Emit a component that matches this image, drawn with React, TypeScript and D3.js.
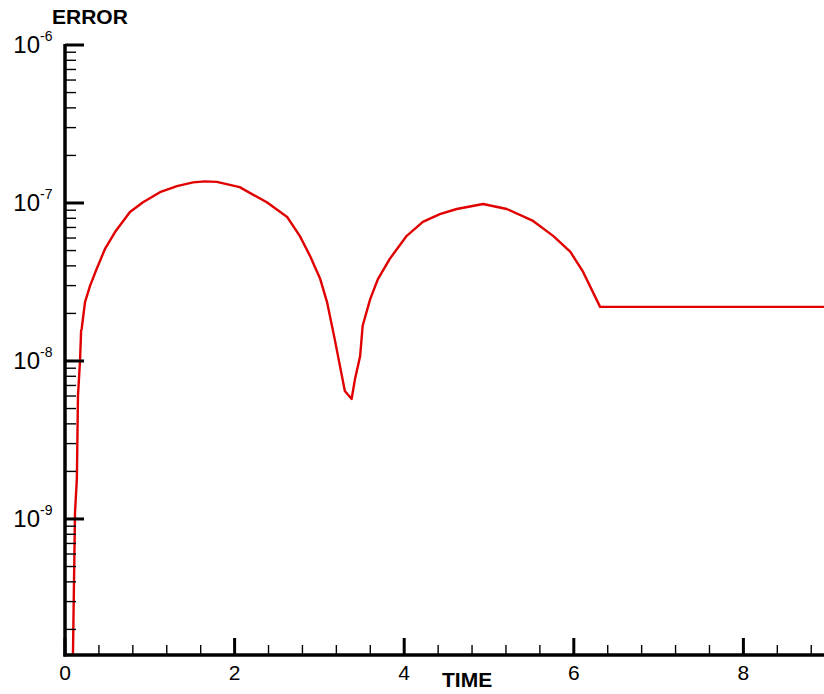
import * as d3 from "d3";

const times = [
  0.09, 0.118, 0.14, 0.153, 0.177, 0.19, 0.197, 0.236, 0.295, 0.373, 0.47, 0.59,
  0.766, 0.92, 1.12, 1.32, 1.51, 1.65, 1.79, 2.06, 2.38, 2.62, 2.77, 2.89, 3.01,
  3.09, 3.18, 3.3, 3.38, 3.42, 3.48, 3.51, 3.6, 3.69, 3.83, 4.03, 4.22, 4.42,
  4.62, 4.93, 5.21, 5.52, 5.76, 5.96, 6.11, 6.31, 9.0,
];
const errors = [
  1e-10, 1.1e-9, 1.8e-9, 6e-9, 1e-8, 1.55e-8, 1.6e-8, 2.36e-8, 2.99e-8, 3.82e-8,
  5.1e-8, 6.55e-8, 8.77e-8, 1.01e-7, 1.17e-7, 1.28e-7, 1.35e-7, 1.37e-7, 1.36e-7,
  1.26e-7, 1.01e-7, 8.15e-8, 6.17e-8, 4.62e-8, 3.3e-8, 2.36e-8, 1.38e-8, 6.45e-9,
  5.75e-9, 7.7e-9, 1.07e-8, 1.67e-8, 2.47e-8, 3.3e-8, 4.43e-8, 6.2e-8, 7.6e-8,
  8.5e-8, 9.16e-8, 9.86e-8, 9.16e-8, 7.7e-8, 6.17e-8, 4.9e-8, 3.66e-8, 2.2e-8,
  2.2e-8,
];
const xTicks = [0, 2, 4, 6, 8];
const yExponents = [-6, -7, -8, -9];

const width = 824;
const height = 694;
const LEFT = 65;
const TOP = 45;
const BOTTOM = 655;

const App = () => {
  const x = d3.scaleLinear().domain([0, 9]).range([LEFT, LEFT + 9 * 84.8]);
  const y = d3
    .scaleLog()
    .domain([Math.pow(10, -9.861), 1e-6])
    .range([BOTTOM, TOP]);

  const line = d3
    .line<number>()
    .x((_, i) => x(times[i]))
    .y((d) => y(d));

  // minor x ticks every 0.4
  const minorX = d3.range(0, 9.01, 0.4).filter((v) => Math.abs(v / 2 - Math.round(v / 2)) > 0.01);
  // minor y ticks 2..9 x 10^n
  const minorY: number[] = [];
  [-10, -9, -8, -7].forEach((e) => {
    for (let m = 2; m <= 9; m++) {
      const v = m * Math.pow(10, e);
      if (v > y.domain()[0] && v < 1e-6) minorY.push(v);
    }
  });

  return (
    <div style={{ position: "absolute", left: 0, top: 0 }}>
      <svg width={width} height={height} style={{ display: "block" }}>
        <defs>
          <clipPath id="plot">
            <rect x={LEFT} y={TOP} width={width - LEFT} height={BOTTOM - TOP} />
          </clipPath>
        </defs>
        <rect width={width} height={height} fill="#fff" />

        <path
          d={line(errors) || ""}
          fill="none"
          stroke="#e00000"
          strokeWidth={2.4}
          strokeLinejoin="round"
          clipPath="url(#plot)"
        />

        {/* y axis */}
        {minorY.map((v, i) => (
          <line key={i} x1={LEFT} x2={LEFT + 11} y1={y(v)} y2={y(v)} stroke="#000" strokeWidth={1.4} />
        ))}
        {yExponents.map((e) => (
          <g key={e}>
            <line x1={LEFT} x2={LEFT + 19} y1={y(Math.pow(10, e))} y2={y(Math.pow(10, e))} stroke="#000" strokeWidth={3} />
            <text
              x={LEFT - 25}
              y={y(Math.pow(10, e)) + 8}
              textAnchor="end"
              fontFamily="Liberation Sans, Arial, sans-serif"
              fontSize={24}
              fill="#000"
            >
              10
            </text>
            <text
              x={LEFT - 25}
              y={y(Math.pow(10, e)) - 4}
              textAnchor="start"
              fontFamily="Liberation Sans, Arial, sans-serif"
              fontSize={14}
              fill="#000"
            >
              {e}
            </text>
          </g>
        ))}
        <line x1={LEFT} x2={LEFT} y1={TOP - 1} y2={BOTTOM + 1.5} stroke="#000" strokeWidth={3.5} />

        {/* x axis */}
        {minorX.map((v, i) => (
          <line key={i} x1={x(v)} x2={x(v)} y1={BOTTOM} y2={BOTTOM - 10} stroke="#000" strokeWidth={1.4} />
        ))}
        {xTicks.map((v) => (
          <g key={v}>
            <line x1={x(v)} x2={x(v)} y1={BOTTOM} y2={BOTTOM - 17} stroke="#000" strokeWidth={3} />
            <text
              x={x(v)}
              y={BOTTOM + 25}
              textAnchor="middle"
              fontFamily="Liberation Sans, Arial, sans-serif"
              fontSize={21}
              fill="#000"
            >
              {v}
            </text>
          </g>
        ))}
        <line x1={LEFT - 1.5} x2={width} y1={BOTTOM} y2={BOTTOM} stroke="#000" strokeWidth={3.5} />

        <text
          x={52}
          y={24}
          fontFamily="Liberation Sans, Arial, sans-serif"
          fontWeight="bold"
          fontSize={21}
          fill="#000"
        >
          ERROR
        </text>
        <text
          x={442}
          y={687}
          fontFamily="Liberation Sans, Arial, sans-serif"
          fontWeight="bold"
          fontSize={21}
          fill="#000"
        >
          TIME
        </text>
      </svg>
    </div>
  );
};

export default App;
